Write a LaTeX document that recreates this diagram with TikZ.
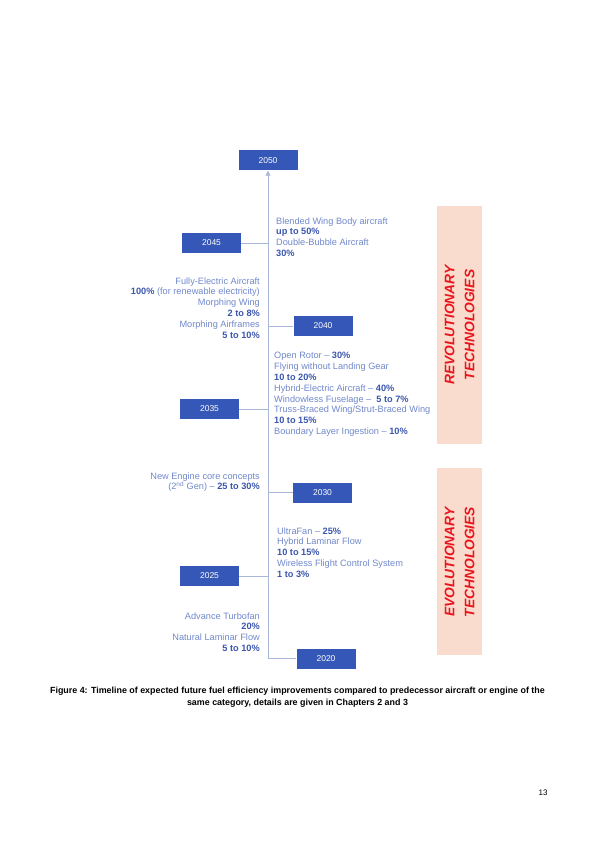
\documentclass[tikz,border=0pt]{standalone}
\usepackage{fontspec}
\setmainfont{Liberation Sans}
\usetikzlibrary{arrows.meta}

\definecolor{yearblue}{HTML}{3457B8}
\definecolor{itemblue}{HTML}{7088CC}
\definecolor{valblue}{HTML}{3A55AD}
\definecolor{lineblue}{HTML}{A8B7DA}
\definecolor{techpink}{HTML}{FADCCF}
\definecolor{techred}{HTML}{E8161C}

\newcommand{\pct}[1]{{\bfseries\color{valblue}#1}}

\begin{document}
\begin{tikzpicture}[x=1pt, y=-1pt,
  yearbox/.style={fill=yearblue, text=white, minimum width=59pt, minimum height=20pt,
    inner sep=0pt, font=\fontsize{8.5}{10}\selectfont},
  timeline/.style={draw=lineblue, line width=1pt},
  items/.style={text=itemblue, inner sep=0pt, font=\fontsize{9.2}{10.8}\selectfont},
  techlabel/.style={text=techred, rotate=90, align=center, inner sep=0pt,
    font=\fontsize{13.8}{20}\selectfont\bfseries\itshape}]

  % Page
  \useasboundingbox (0,0) rectangle (595,842);

  % Technology bands
  \fill[techpink] (437,206) rectangle (482,444);
  \fill[techpink] (437,468) rectangle (482,655);
  \node[techlabel] (rev) at (459.5,325) {REVOLUTIONARY\\TECHNOLOGIES};
  \node[techlabel] (evo) at (459.5,562) {EVOLUTIONARY\\TECHNOLOGIES};

  % Years
  \node[yearbox] (y2050) at (268,160.5) {2050};
  \node[yearbox] (y2045) at (211.5,243) {2045};
  \node[yearbox] (y2040) at (323,326) {2040};
  \node[yearbox] (y2035) at (209.5,409) {2035};
  \node[yearbox] (y2030) at (322.5,492.5) {2030};
  \node[yearbox] (y2025) at (209.5,576) {2025};
  \node[yearbox] (y2020) at (326,658.5) {2020};

  % Time axis
  \draw[timeline, -{Triangle[width=5pt,length=5pt]}] (y2020.west) -| (y2050.south);
  \foreach \yr in {2045,2035,2025}
    \draw[timeline] (y\yr.east) -- (y\yr.east -| y2050.south);
  \foreach \yr in {2040,2030}
    \draw[timeline] (y\yr.west) -- (y\yr.west -| y2050.south);

  % Technologies
  \node[items, anchor=north west, align=left] (t2045) at (276,217.3)
    {Blended Wing Body aircraft\\\pct{up to 50\%}\\Double-Bubble Aircraft\\\pct{30\%}};
  \node[items, anchor=north east, align=right] (t2040) at (260,277.3)
    {Fully-Electric Aircraft\\\pct{100\%} (for renewable electricity)\\Morphing Wing\\\pct{2 to 8\%}\\
     Morphing Airframes\\\pct{5 to 10\%}};
  \node[items, anchor=north west, align=left] (t2035) at (274,352.3)
    {Open Rotor – \pct{30\%}\\Flying without Landing Gear\\\pct{10 to 20\%}\\
     Hybrid-Electric Aircraft – \pct{40\%}\\Windowless Fuselage –\ \ \pct{5 to 7\%}\\
     Truss-Braced Wing/Strut-Braced Wing\\\pct{10 to 15\%}\\Boundary Layer Ingestion – \pct{10\%}};
  \node[items, anchor=north east, align=right] (t2030) at (260,472.3)
    {New Engine core concepts\\(2\textsuperscript{nd} Gen) – \pct{25 to 30\%}};
  \node[items, anchor=north west, align=left] (t2025) at (277,527.3)
    {UltraFan – \pct{25\%}\\Hybrid Laminar Flow\\\pct{10 to 15\%}\\
     Wireless Flight Control System\\\pct{1 to 3\%}};
  \node[items, anchor=north east, align=right] (t2020) at (260,612.3)
    {Advance Turbofan\\\pct{20\%}\\Natural Laminar Flow\\\pct{5 to 10\%}};

  % Caption and page number
  \node[anchor=north, align=center, inner sep=0pt, font=\fontsize{8.9}{12}\selectfont\bfseries]
    (caption) at (297.5,686.5)
    {Figure 4: Timeline of expected future fuel efficiency improvements compared to predecessor aircraft or engine of the\\
     same category, details are given in Chapters 2 and 3};
  \node[font=\fontsize{8}{10}\selectfont] (page) at (543,793) {13};

\end{tikzpicture}
\end{document}
